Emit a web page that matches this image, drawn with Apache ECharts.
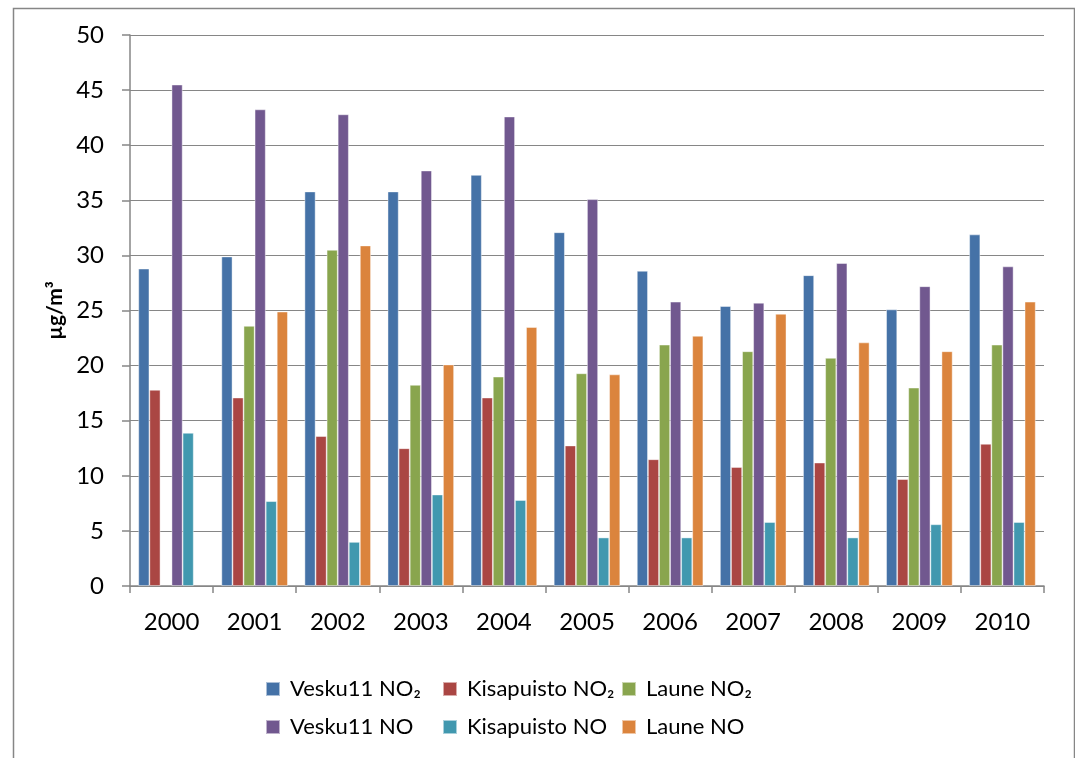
<!DOCTYPE html>
<html>
<head>
<meta charset="utf-8">
<script src="https://cdn.jsdelivr.net/npm/echarts@6/dist/echarts.min.js"></script>
<style>
html,body{margin:0;padding:0;background:#fff;}
#c{width:1075px;height:758px;}
</style>
</head>
<body>
<div id="c"></div>
<script>
const years = ['2000','2001','2002','2003','2004','2005','2006','2007','2008','2009','2010'];
const yTicks = [0,5,10,15,20,25,30,35,40,45,50];
const seriesNames = ['Vesku11 NO₂','Kisapuisto NO₂','Laune NO₂','Vesku11 NO','Kisapuisto NO','Laune NO'];
const vesku11NO2     = [28.8, 29.9, 35.8, 35.8, 37.3, 32.1, 28.6, 25.4, 28.2, 25.1, 31.9];
const kisapuistoNO2  = [17.8, 17.1, 13.6, 12.5, 17.1, 12.75, 11.5, 10.8, 11.2, 9.7, 12.9];
const launeNO2       = [null, 23.6, 30.5, 18.25, 19.0, 19.3, 21.9, 21.3, 20.7, 18.0, 21.9];
const vesku11NO      = [45.5, 43.25, 42.8, 37.7, 42.6, 35.1, 25.8, 25.7, 29.3, 27.2, 29.0];
const kisapuistoNO   = [13.9, 7.7, 4.0, 8.3, 7.8, 4.4, 4.4, 5.8, 4.4, 5.6, 5.8];
const launeNO        = [null, 24.9, 30.9, 20.1, 23.5, 19.2, 22.7, 24.7, 22.1, 21.3, 25.8];

const allValues = [vesku11NO2, kisapuistoNO2, launeNO2, vesku11NO, kisapuistoNO, launeNO];
const colors = ['#4572A7','#AA4643','#89A54E','#71588F','#4198AF','#DB843D'];
const FONT = 'Lato, "Liberation Sans", sans-serif';

const legendSpots = [[265,678],[442,678],[621,678],[265,716],[442,716],[621,716]];

const chart = echarts.init(document.getElementById('c'), null, {renderer:'canvas'});
const option = {
  backgroundColor:'#ffffff',
  animation:false,
  color: colors,
  graphic:[{
    type:'rect', left:11, top:6, silent:true,
    shape:{width:1061, height:800},
    style:{fill:'none', stroke:'#868686', lineWidth:1.5}
  }],
  grid:{left:130, top:35, right:31, bottom:172, containLabel:false},
  legend: seriesNames.map((n,i)=>({
    data:[n], left:legendSpots[i][0], top:legendSpots[i][1], padding:0,
    itemWidth:14, itemHeight:14, itemGap:0, icon:'rect',
    textStyle:{fontFamily:FONT, fontSize:22, color:'#000', padding:[0,0,0,5]}
  })),
  xAxis:{
    type:'category', data:years,
    axisLine:{lineStyle:{color:'#868686', width:1.5}},
    axisTick:{show:true, length:7, alignWithLabel:false, lineStyle:{color:'#868686', width:1.5}},
    axisLabel:{fontFamily:FONT, fontSize:24, color:'#000', margin:24}
  },
  yAxis:{
    type:'value', min:0, max:50, interval:5,
    name:'µg/m³', nameLocation:'middle', nameGap:56, nameRotate:90,
    nameTextStyle:{fontFamily:FONT, fontSize:21, fontWeight:'bold', color:'#000'},
    axisLine:{show:true, lineStyle:{color:'#868686', width:1.5}},
    axisTick:{show:true, length:8, lineStyle:{color:'#868686', width:1.5}},
    splitLine:{show:true, lineStyle:{color:'#868686', width:1.2}},
    axisLabel:{fontFamily:FONT, fontSize:24, color:'#000', margin:26,
      formatter:(v)=> yTicks.includes(v) ? String(v) : ''}
  },
  series: seriesNames.map((n,i)=>({
    name:n, type:'bar', data:allValues[i],
    barGap:'0%', barCategoryGap:'20%',
    itemStyle:{color:colors[i], borderColor:'rgba(255,255,255,0.55)', borderWidth:0.8}
  }))
};
chart.setOption(option);
</script>
</body>
</html>
